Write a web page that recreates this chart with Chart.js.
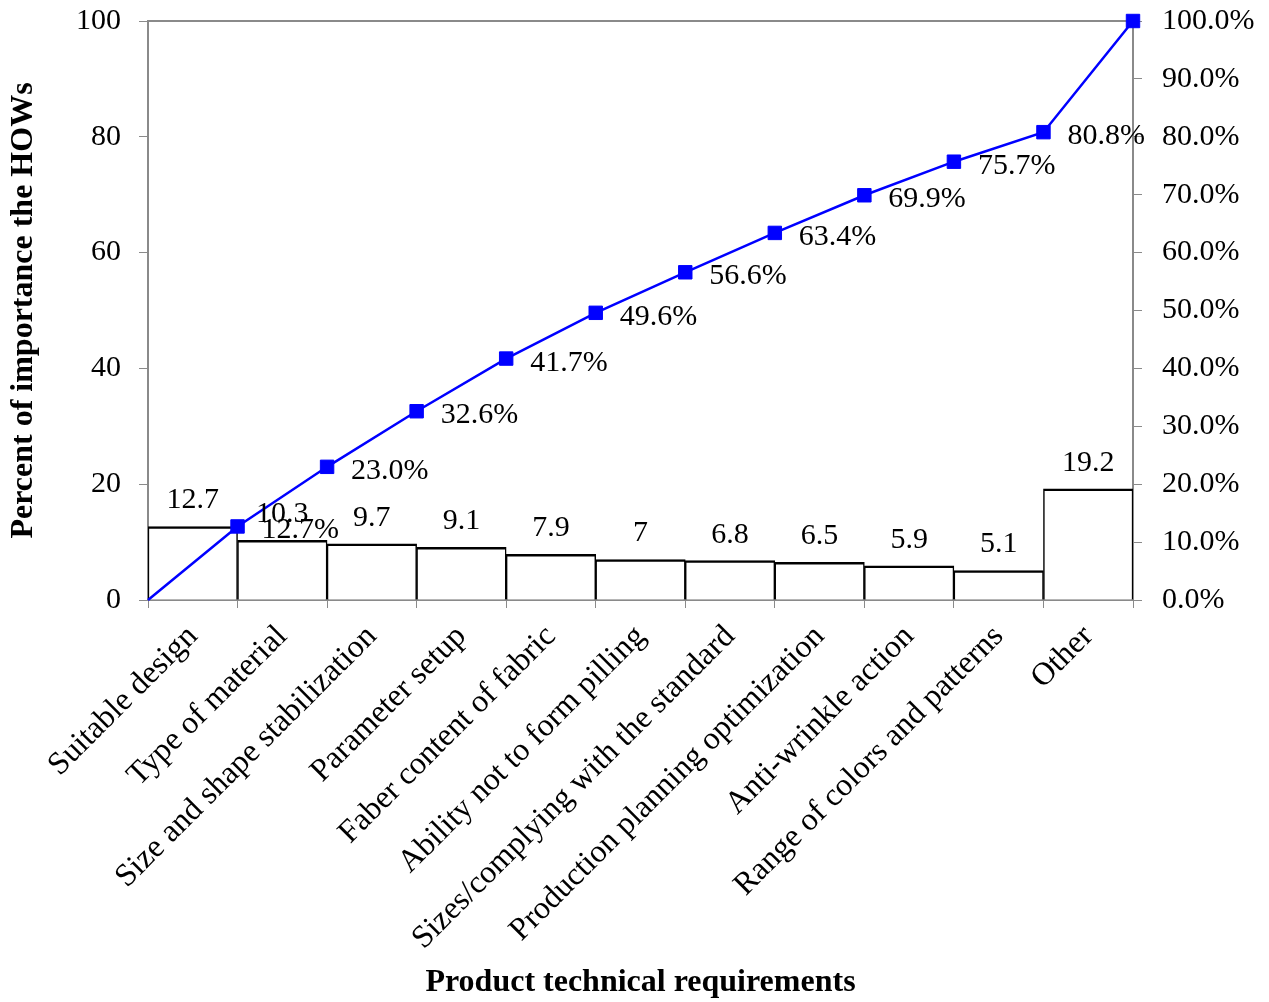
<!DOCTYPE html>
<html><head><meta charset="utf-8">
<script src="https://cdn.jsdelivr.net/npm/chart.js@4"></script>
<style>html,body{margin:0;padding:0;background:#fff}</style>
</head><body>
<canvas id="c" width="1269" height="1002"></canvas>
<script>
const categories = [
  "Suitable design",
  "Type of material",
  "Size and shape stabilization",
  "Parameter setup",
  "Faber content of fabric",
  "Ability not to form pilling",
  "Sizes/complying with the standard",
  "Production planning optimization",
  "Anti-wrinkle action",
  "Range of colors and patterns",
  "Other"
];
const importance = [12.7, 10.3, 9.7, 9.1, 7.9, 7, 6.8, 6.5, 5.9, 5.1, 19.2];
const cumulativePct = [0, 12.7, 23.0, 32.6, 41.7, 49.6, 56.6, 63.4, 69.9, 75.7, 80.8, 100];
const leftTicks = [0, 20, 40, 60, 80, 100];
const rightTicks = [0, 10, 20, 30, 40, 50, 60, 70, 80, 90, 100];

const FONT = '"Liberation Serif", "Times New Roman", serif';
const AXIS = '#8a8a8a';
const FS = 30;
const FX = 32;

const labelPlugin = {
  id: 'valueLabels',
  afterDatasetsDraw(chart) {
    const ctx = chart.ctx;
    ctx.save();
    ctx.font = FS + 'px ' + FONT;
    ctx.fillStyle = '#000';
    ctx.textBaseline = 'alphabetic';
    chart.data.datasets.forEach((ds, di) => {
      const meta = chart.getDatasetMeta(di);
      meta.data.forEach((el, i) => {
        if (ds.type === 'bar') {
          ctx.textAlign = 'center';
          ctx.fillText(String(ds.data[i]), el.x, el.y - 18);
        } else {
          if (i === 0 || i === ds.data.length - 1) return;
          ctx.textAlign = 'left';
          ctx.fillText(ds.data[i].y.toFixed(1) + '%', el.x + 24, el.y + 12);
        }
      });
    });
    ctx.restore();
  }
};

new Chart(document.getElementById('c'), {
  data: {
    labels: categories,
    datasets: [
      {
        type: 'line',
        data: cumulativePct.map((v, i) => ({ x: i, y: v })),
        xAxisID: 'xb', yAxisID: 'yr',
        borderColor: '#0000ff', backgroundColor: '#0000ff', borderWidth: 2.5,
        pointStyle: 'rect',
        pointRadius: c => c.dataIndex === 0 ? 0 : 9.5,
        pointBorderWidth: 1, pointBorderColor: '#0000ff', pointBackgroundColor: '#0000ff',
        tension: 0, order: 0, clip: false
      },
      {
        type: 'bar',
        data: importance,
        xAxisID: 'x', yAxisID: 'y',
        backgroundColor: '#ffffff', borderColor: '#000000',
        borderWidth: { top: 2.5, left: 1.5, right: 1.5, bottom: 0 },
        barPercentage: 1, categoryPercentage: 1, grouped: false, order: 1
      }
    ]
  },
  options: {
    responsive: false, animation: false, devicePixelRatio: 1,
    layout: { padding: { top: 21, left: 0, right: 0, bottom: 0 } },
    plugins: { legend: { display: false }, tooltip: { enabled: false } },
    scales: {
      x: {
        type: 'category', position: 'bottom', offset: true,
        grid: { offset: true, drawOnChartArea: false, tickLength: 8, color: AXIS, lineWidth: 1 },
        border: { color: AXIS, width: 2 },
        ticks: { minRotation: 45, maxRotation: 45, autoSkip: false, padding: 10, color: '#000', font: { family: FONT, size: FX } },
        title: { display: true, text: 'Product technical requirements', color: '#000', font: { family: FONT, size: FX, weight: 'bold' }, padding: { top: 0, bottom: 0 } },
        afterFit(s) { s.height = 402; s.paddingLeft = 0; s.paddingRight = 0; }
      },
      xb: {
        type: 'linear', position: 'top', min: 0, max: 11,
        ticks: { display: false },
        grid: { display: true, drawOnChartArea: false, drawTicks: false },
        border: { color: AXIS, width: 2 },
        afterFit(s) { s.height = 0; s.paddingLeft = 0; s.paddingRight = 0; }
      },
      y: {
        type: 'linear', position: 'left', min: 0, max: 100,
        afterBuildTicks(s) { s.ticks = leftTicks.map(v => ({ value: v })); },
        grid: { drawOnChartArea: false, tickLength: 9, color: AXIS, lineWidth: 1 },
        border: { color: AXIS, width: 2 },
        ticks: { padding: 18, color: '#000', font: { family: FONT, size: FS } },
        title: { display: true, text: 'Percent of importance the HOWs', color: '#000', font: { family: FONT, size: FX, weight: 'bold' }, padding: { top: 5, bottom: 0 } },
        afterFit(s) { s.width = 148; s.paddingTop = 0; s.paddingBottom = 0; }
      },
      yr: {
        type: 'linear', position: 'right', min: 0, max: 100,
        afterBuildTicks(s) { s.ticks = rightTicks.map(v => ({ value: v })); },
        grid: { drawOnChartArea: false, tickLength: 9, color: AXIS, lineWidth: 1 },
        border: { color: AXIS, width: 2 },
        ticks: { padding: 20, color: '#000', font: { family: FONT, size: FS }, callback: v => Number(v).toFixed(1) + '%' },
        afterFit(s) { s.width = 136; s.paddingTop = 0; s.paddingBottom = 0; }
      }
    }
  },
  plugins: [labelPlugin]
});
</script>
</body></html>
